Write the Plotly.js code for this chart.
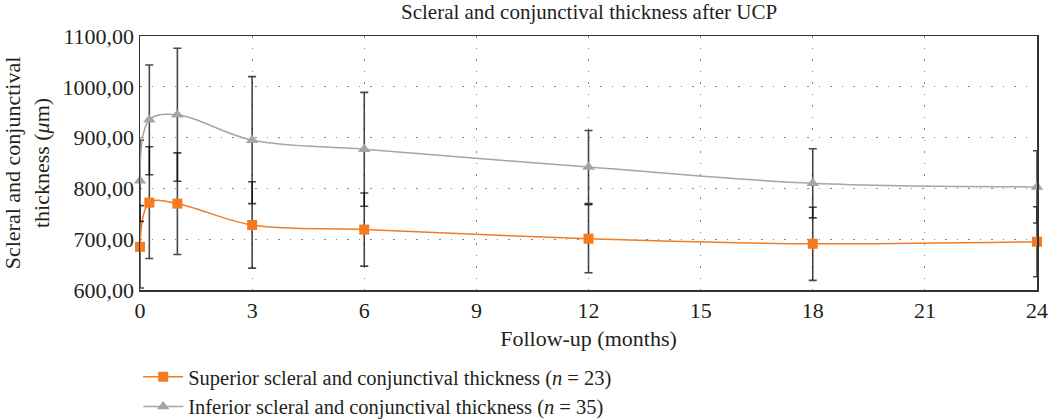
<!DOCTYPE html>
<html>
<head>
<meta charset="utf-8">
<script src="https://cdn.plot.ly/plotly-3.0.1.min.js"></script>
<style>html,body{margin:0;padding:0;background:#fff;}#chart{width:1051px;height:419px;}</style>
</head>
<body>
<div id="chart"></div>
<script>
// Follow-up time points (months)
const months = [0, 0.25, 1, 3, 6, 12, 18, 24];
// Superior scleral and conjunctival thickness (n = 23)
const superiorMean = [685, 772, 770, 728, 719, 701, 691, 695];
const superiorSD   = [81, 110, 100, 85, 72, 67, 72, 69];
// Inferior scleral and conjunctival thickness (n = 35)
const inferiorMean = [815, 935, 945, 895, 877, 842, 810, 803];
const inferiorSD   = [80, 108, 131, 125, 112, 72, 68, 71];
// Axis ticks
const xTicks = [0, 3, 6, 9, 12, 15, 18, 21, 24];
const yTicks = [600, 700, 800, 900, 1000, 1100];
const yTickText = ['600,00', '700,00', '800,00', '900,00', '1000,00', '1100,00'];

const FONT = "'Liberation Serif', 'Times New Roman', serif";
const TXT = '#231f20';
const errStyle = {type: 'data', visible: true, color: 'rgba(0,0,0,0.72)', thickness: 1.6, width: 4};

const traces = [
  {
    x: months, y: superiorMean, type: 'scatter', mode: 'lines+markers',
    name: 'Superior scleral and conjunctival thickness (<i>n</i> = 23)',
    line: {color: '#f47b20', width: 1.5, shape: 'spline', smoothing: 1},
    marker: {symbol: 'square', size: 10, color: '#f47b20'},
    error_y: Object.assign({array: superiorSD}, errStyle),
    cliponaxis: false
  },
  {
    x: months, y: inferiorMean, type: 'scatter', mode: 'lines+markers',
    name: 'Inferior scleral and conjunctival thickness (<i>n</i> = 35)',
    line: {color: '#a5a5a5', width: 1.5, shape: 'spline', smoothing: 1},
    marker: {symbol: 'triangle-up', size: 11, color: '#a5a5a5'},
    error_y: Object.assign({array: inferiorSD}, errStyle),
    cliponaxis: false
  }
];

const LEG_TOP = 357;   // legend top edge in px
const layout = {
  width: 1051, height: 419,
  margin: {l: 140, r: 14, t: 36, b: 129},
  paper_bgcolor: '#fff', plot_bgcolor: '#fff',
  font: {family: FONT, size: 21, color: TXT},
  title: {text: 'Scleral and conjunctival thickness after UCP', x: 0.5605, xanchor: 'center', y: 0.99, yanchor: 'top', font: {family: FONT, size: 21, color: TXT}},
  xaxis: {
    range: [0, 24], tickvals: xTicks, ticktext: xTicks.map(String),
    showline: true, linecolor: '#333', linewidth: 1.5, mirror: true,
    showgrid: true, gridcolor: '#888', griddash: '1.5px,10px', gridwidth: 1,
    zeroline: false, ticks: '', ticklen: 0,
    automargin: false,
    tickfont: {family: FONT, size: 22, color: TXT},
    title: {text: 'Follow-up (months)', font: {family: FONT, size: 22, color: TXT}, standoff: 8}
  },
  yaxis: {
    range: [600, 1100], tickvals: yTicks, ticktext: yTickText,
    showline: true, linecolor: '#333', linewidth: 1.5, mirror: true,
    showgrid: true, gridcolor: '#888', griddash: '1.5px,10px', gridwidth: 1,
    zeroline: false, ticks: '', ticklen: 0, automargin: false,
    tickfont: {family: FONT, size: 22, color: TXT},
    title: {text: 'Scleral and conjunctival<br>thickness (<i>μ</i>m)', font: {family: FONT, size: 22, color: TXT}, standoff: 8}
  },
  showlegend: true,
  legend: {
    xref: 'paper', yref: 'container',
    x: -0.002, xanchor: 'left', y: 1 - LEG_TOP / 419, yanchor: 'top',
    orientation: 'v', font: {family: FONT, size: 20.5, color: TXT},
    bgcolor: 'rgba(0,0,0,0)', itemwidth: 40, tracegroupgap: 0
  }
};

Plotly.newPlot('chart', traces, layout, {displayModeBar: false, staticPlot: true});
</script>
</body>
</html>
